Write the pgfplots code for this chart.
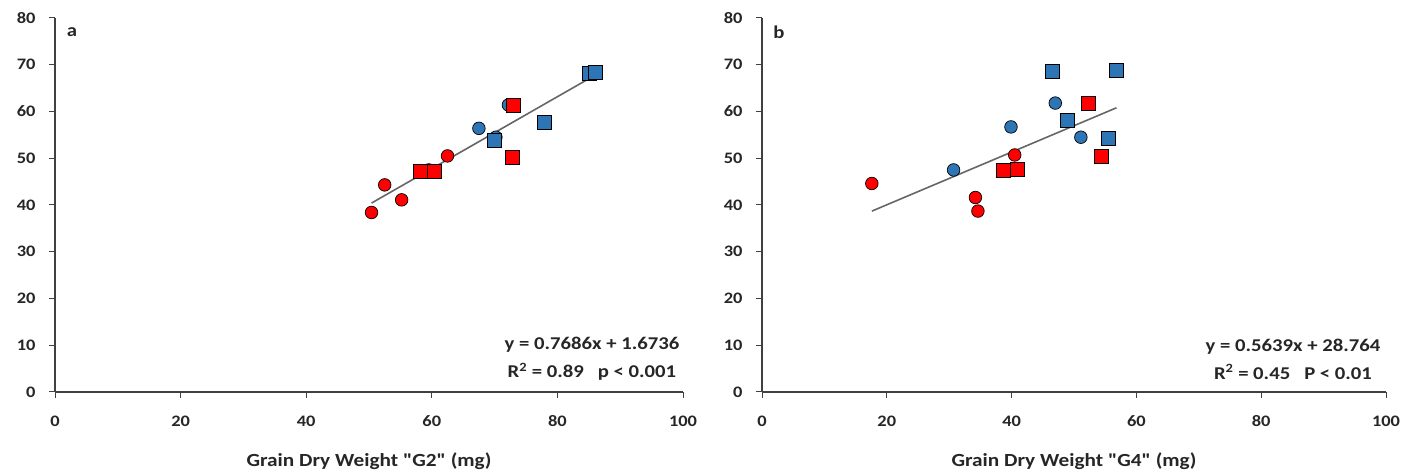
\documentclass[border=0pt]{standalone}
\usepackage{fontspec}
\setmainfont[FakeStretch=1.15, Ligatures=TeXOff]{Carlito}
\usepackage{pgfplots}
\pgfplotsset{compat=1.18}
\definecolor{mred}{HTML}{FF0000}
\definecolor{mblue}{HTML}{2E75B6}
\definecolor{axgray}{HTML}{404040}
\definecolor{txt}{HTML}{262626}
\definecolor{trend}{HTML}{666666}
\pgfplotsset{
  panel/.style={
    scale only axis, width=628pt, height=374pt,
    xmin=0, xmax=100, ymin=0, ymax=80,
    xtick={0,20,...,100}, ytick={0,10,...,80},
    axis lines*=left,
    axis line style={axgray, line width=1.1pt},
    tick align=outside, major tick length=6pt,
    tick style={axgray, line width=1pt},
    /pgf/number format/assume math mode=true,
    tick label style={font=\fontsize{16}{19}\selectfont\bfseries, text=txt},
    xticklabel style={yshift=-14pt},
    yticklabel style={xshift=-10pt},
    xlabel style={at={(axis description cs:0.5,0)}, anchor=center, yshift=-69pt,
      font=\fontsize{18.5}{22}\selectfont\bfseries, text=txt},
    clip=false,
  },
  redsq/.style={only marks, mark=square*, mark size=7pt, mark options={fill=mred, draw=black, line width=0.7pt}},
  redci/.style={only marks, mark=*, mark size=6.3pt, mark options={fill=mred, draw=black, line width=0.7pt}},
  bluesq/.style={only marks, mark=square*, mark size=7pt, mark options={fill=mblue, draw=black, line width=0.7pt}},
  blueci/.style={only marks, mark=*, mark size=6.3pt, mark options={fill=mblue, draw=black, line width=0.7pt}},
  trendl/.style={no marks, trend, line width=1.6pt},
}
\begin{document}
\begin{tikzpicture}[x=1pt,y=1pt]
\useasboundingbox (0,0) rectangle (1401,471);
% Panel a
\begin{axis}[panel, at={(55pt,79pt)}, anchor=origin,
  xlabel={Grain Dry Weight "G2" (mg)}]
\addplot[blueci] coordinates {(59.5,47.5) (70.2,54.5) (67.5,56.4) (72.2,61.4)};
\addplot[bluesq] coordinates {(69.9,53.9) (77.9,57.6) (85.1,68.2) (86.1,68.4)};
\addplot[redci] coordinates {(50.4,38.4) (52.5,44.3) (55.2,41.1) (62.5,50.5)};
\addplot[redsq] coordinates {(58.1,47.1) (60.4,47.3) (73.0,61.4) (72.9,50.2)};
\addplot[trendl] coordinates {(50.4,40.41) (86.1,67.85)};
\node[anchor=center, font=\fontsize{18}{21}\selectfont\bfseries, text=txt] at (axis cs:2.7,77) {a};
\node[align=center, font=\fontsize{18}{28}\selectfont\bfseries, text=txt] at (axis cs:85.5,7.06)
  {y = 0.7686x + 1.6736\\R\textsuperscript{2} = 0.89~~~p < 0.001};
\end{axis}
% Panel b
\begin{axis}[panel, width=624pt, at={(762pt,79pt)}, anchor=origin,
  xlabel={Grain Dry Weight "G4" (mg)}]
\addplot[blueci] coordinates {(30.7,47.5) (39.9,56.7) (47.0,61.8) (51.1,54.5)};
\addplot[bluesq] coordinates {(46.6,68.5) (49.0,58.0) (55.5,54.3) (56.8,68.9)};
\addplot[redci] coordinates {(17.6,44.6) (34.6,38.7) (34.2,41.6) (40.5,50.7)};
\addplot[redsq] coordinates {(38.7,47.5) (40.9,47.7) (52.3,61.8) (54.4,50.5)};
\addplot[trendl] coordinates {(17.6,38.69) (56.8,60.79)};
\node[anchor=center, font=\fontsize{18}{21}\selectfont\bfseries, text=txt] at (axis cs:2.7,77) {b};
\node[align=center, font=\fontsize{18}{28}\selectfont\bfseries, text=txt] at (axis cs:85.1,7.06)
  {y = 0.5639x + 28.764\\R\textsuperscript{2} = 0.45~~~P < 0.01};
\end{axis}
\end{tikzpicture}
\end{document}
